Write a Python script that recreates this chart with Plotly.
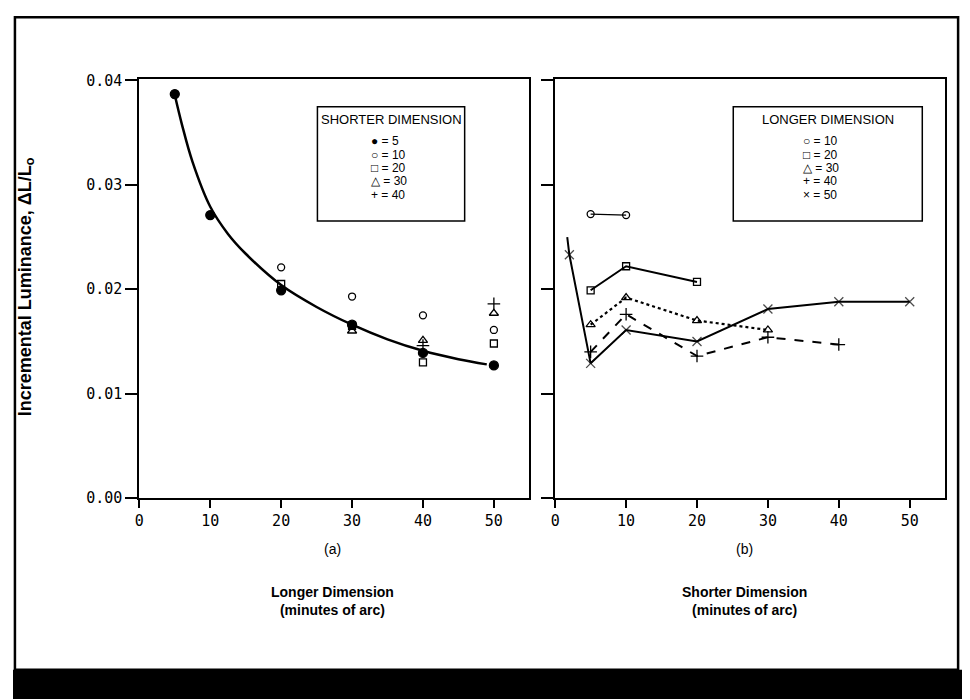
import plotly.graph_objects as go

# ---- data ----
# panel (a): x = longer dimension, one series per shorter dimension
long_s5 = [5, 10, 20, 30, 40, 50]
lum_s5 = [0.0387, 0.0271, 0.0199, 0.0166, 0.0139, 0.0127]
long_s10 = [10, 20, 30, 40, 50]
lum_s10 = [0.0271, 0.0221, 0.0193, 0.0175, 0.0161]
long_s20 = [20, 30, 40, 50]
lum_s20 = [0.0205, 0.0165, 0.0130, 0.0148]
long_s30 = [30, 40, 50]
lum_s30 = [0.0160, 0.0151, 0.0177]
long_s40 = [40, 50]
lum_s40 = [0.0146, 0.0186]

# smooth curve drawn through the filled points
curve_x = [5, 6, 7.5, 10, 12.5, 15, 20, 25, 30, 35, 40, 45, 49]
curve_y = [0.0386, 0.0358, 0.0322, 0.0279, 0.0253, 0.0234, 0.0204, 0.0183,
           0.0166, 0.0152, 0.0141, 0.0133, 0.0128]

# panel (b): x = shorter dimension, one series per longer dimension
short_l10 = [5, 10]
lum_l10 = [0.0272, 0.0271]
short_l20 = [5, 10, 20]
lum_l20 = [0.0199, 0.0222, 0.0207]
short_l30 = [5, 10, 20, 30]
lum_l30 = [0.0166, 0.0192, 0.0170, 0.0161]
short_l40 = [5, 10, 20, 30, 40]
lum_l40 = [0.0140, 0.0176, 0.0136, 0.0154, 0.0147]
short_l50 = [1.7, 2, 5, 10, 20, 30, 40, 50]
lum_l50 = [0.0250, 0.0233, 0.0129, 0.0161, 0.0150, 0.0181, 0.0188, 0.0188]

x_ticks = [0, 10, 20, 30, 40, 50]
y_ticks = [0.00, 0.01, 0.02, 0.03, 0.04]
legend_a = ["\u25cf = 5", "\u25cb = 10", "\u25a1 = 20", "\u25b3 = 30", "+ = 40"]
legend_b = ["\u25cb = 10", "\u25a1 = 20", "\u25b3 = 30", "+ = 40", "\u00d7 = 50"]

BLACK = "black"
W, H = 970, 700
OFF = 8  # page body margin around the plot div


def px(x):
    # page pixel -> paper fraction (horizontal)
    return (x - OFF) / W


def py(y):
    # page pixel -> paper fraction (vertical)
    return (H + OFF - y) / H


TICK_FONT = dict(family="DejaVu Sans Mono", size=15, color=BLACK)

fig = go.Figure()


def pts(x, y, symbol, size):
    return go.Scatter(x=x, y=y, mode="markers",
                      marker=dict(symbol=symbol, size=size, color=BLACK,
                                  line=dict(color=BLACK, width=1.3)),
                      showlegend=False)


# panel (a)
fig.add_trace(go.Scatter(x=curve_x, y=curve_y, mode="lines", line_shape="spline",
                         line=dict(color=BLACK, width=2.5), showlegend=False))
fig.add_trace(pts(long_s5, lum_s5, "circle", 9))
fig.add_trace(pts(long_s10, lum_s10, "circle-open", 7))
fig.add_trace(pts(long_s20, lum_s20, "square-open", 7))
fig.add_trace(pts(long_s30, lum_s30, "triangle-up-open", 8))
fig.add_trace(pts(long_s40, lum_s40, "cross-thin-open", 9))


# panel (b)
def series(x, y, symbol, size, dash, width, sizes=None):
    return go.Scatter(x=x, y=y, mode="lines+markers", xaxis="x2", yaxis="y2",
                      line=dict(color=BLACK, width=width, dash=dash),
                      marker=dict(symbol=symbol, size=sizes or size, color=BLACK,
                                  line=dict(color=BLACK, width=1.3)),
                      showlegend=False)


fig.add_trace(series(short_l10, lum_l10, "circle-open", 7, "solid", 1.3))
fig.add_trace(series(short_l20, lum_l20, "square-open", 7, "solid", 2))
fig.add_trace(series(short_l30, lum_l30, "triangle-up-open", 8, "dot", 2.2))
fig.add_trace(series(short_l40, lum_l40, "cross-thin-open", 9, "dash", 2))
fig.add_trace(series(short_l50, lum_l50, "x-thin-open", 9, "solid", 2,
                     sizes=[0] + [9] * (len(short_l50) - 1)))

axis_common = dict(range=[0, 55], tickvals=x_ticks, ticks="outside", ticklen=8,
                   tickwidth=1.5, tickcolor=BLACK, showline=True, linecolor=BLACK,
                   linewidth=2, mirror=True, showgrid=False, zeroline=False,
                   tickfont=TICK_FONT)
yaxis_common = dict(range=[0, 0.0401], tickvals=y_ticks, ticks="outside", ticklen=12,
                    tickwidth=1.5, tickcolor=BLACK, showline=True, linecolor=BLACK,
                    linewidth=2, mirror=True, showgrid=False, zeroline=False,
                    tickfont=TICK_FONT)

y_dom = [py(502), py(73)]
fig.update_layout(
    width=W, height=H,
    margin=dict(l=0, r=0, t=0, b=0),
    paper_bgcolor="white", plot_bgcolor="white",
    xaxis=dict(domain=[px(135), px(527)], anchor="y", **axis_common),
    yaxis=dict(domain=y_dom, anchor="x", tickformat=".2f", **yaxis_common),
    xaxis2=dict(domain=[px(553), px(945)], anchor="y2", **axis_common),
    yaxis2=dict(domain=y_dom, anchor="x2", showticklabels=False, **yaxis_common),
)

# sub-panel labels and axis titles
bold = dict(family="Liberation Sans", size=14, color=BLACK)
for x_mid, tag, title in [(329, "(a)", "Longer Dimension"), (743, "(b)", "Shorter Dimension")]:
    fig.add_annotation(text=tag, xref="paper", yref="paper", x=px(x_mid), y=py(554),
                       xanchor="center", yanchor="middle", showarrow=False,
                       font=dict(family="Liberation Sans", size=14, color=BLACK))
    fig.add_annotation(text=f"<b>{title}<br>(minutes of arc)</b>", xref="paper",
                       yref="paper", x=px(x_mid), y=py(608), xanchor="center",
                       yanchor="middle", showarrow=False, font=bold)

fig.add_annotation(text="<b>Incremental Luminance, \u0394L/L<sub>o</sub></b>", textangle=-90,
                   xref="paper", yref="paper", x=px(21), y=py(285), xanchor="center",
                   yanchor="middle", showarrow=False,
                   font=dict(family="Liberation Sans", size=18, color=BLACK))

# legend boxes
entry_rows = [136, 150, 164, 177, 191]
for x0, x1, x_items, head, items in [(314, 462, 366, "SHORTER DIMENSION", legend_a),
                                     (732, 922, 800, "LONGER DIMENSION", legend_b)]:
    fig.add_shape(type="rect", xref="paper", yref="paper", x0=px(x0), x1=px(x1),
                  y0=py(218), y1=py(101), line=dict(color=BLACK, width=1.5),
                  fillcolor="white")
    fig.add_annotation(text=head, xref="paper", yref="paper", x=px((x0 + x1) / 2),
                       y=py(114), xanchor="center", yanchor="middle", showarrow=False,
                       font=dict(family="Liberation Sans", size=13, color=BLACK))
    for row, item in zip(entry_rows, items):
        fig.add_annotation(text=item, xref="paper", yref="paper", x=px(x_items), y=py(row),
                           xanchor="left", yanchor="middle", showarrow=False,
                           font=dict(family="Liberation Sans", size=12, color=BLACK))

# outer frame and black strip at the bottom of the scan
fig.add_shape(type="rect", xref="paper", yref="paper", x0=0.002, x1=px(958),
              y0=py(678), y1=0.998, line=dict(color=BLACK, width=2.5))
fig.add_shape(type="rect", xref="paper", yref="paper", x0=0, x1=1, y0=0, y1=py(678),
              line=dict(width=0), fillcolor=BLACK)

fig.write_html("out.html")
